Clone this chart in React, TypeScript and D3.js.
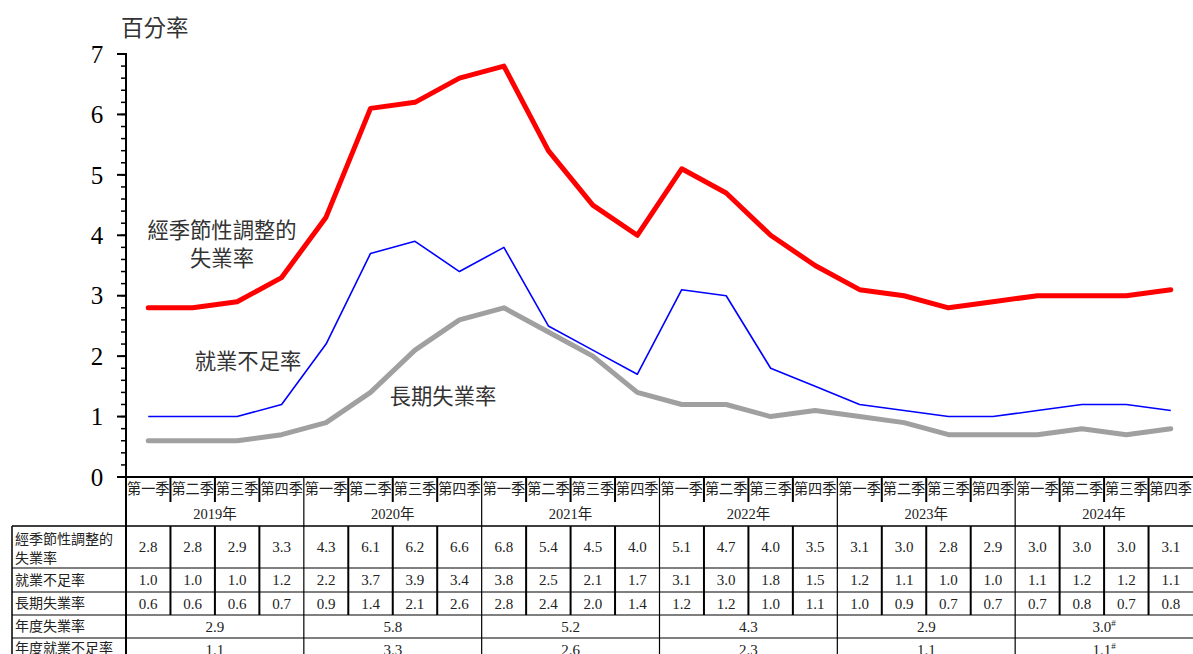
import React from 'react';
import * as d3 from 'd3';

const quarterNames = ['第一季', '第二季', '第三季', '第四季'];
const years = ['2019年', '2020年', '2021年', '2022年', '2023年', '2024年'];
const saUnemployment = [2.8, 2.8, 2.9, 3.3, 4.3, 6.1, 6.2, 6.6, 6.8, 5.4, 4.5, 4.0, 5.1, 4.7, 4.0, 3.5, 3.1, 3.0, 2.8, 2.9, 3.0, 3.0, 3.0, 3.1];
const underemployment = [1.0, 1.0, 1.0, 1.2, 2.2, 3.7, 3.9, 3.4, 3.8, 2.5, 2.1, 1.7, 3.1, 3.0, 1.8, 1.5, 1.2, 1.1, 1.0, 1.0, 1.1, 1.2, 1.2, 1.1];
const longTerm = [0.6, 0.6, 0.6, 0.7, 0.9, 1.4, 2.1, 2.6, 2.8, 2.4, 2.0, 1.4, 1.2, 1.2, 1.0, 1.1, 1.0, 0.9, 0.7, 0.7, 0.7, 0.8, 0.7, 0.8];
const annualUnemployment = ['2.9', '5.8', '5.2', '4.3', '2.9', '3.0'];
const annualUnderemployment = ['1.1', '3.3', '2.6', '2.3', '1.1', '1.1'];
const provisional = [false, false, false, false, false, true];
const yTicks = [0, 1, 2, 3, 4, 5, 6, 7];

const W = 1193;
const H = 654;
const FONT = "'Liberation Serif', 'Noto Sans CJK TC', serif";
const CJK = "'Noto Sans CJK TC', 'Liberation Serif', sans-serif";

export default function App() {
  const n = saUnemployment.length;
  const left = 126;
  const right = 1193;
  const x = d3.scaleBand<number>().domain(d3.range(n)).range([left, right]).padding(0);
  const bw = x.bandwidth();
  const cx = (i: number) => (x(i) as number) + bw / 2;
  const y = d3.scaleLinear().domain([0, 7]).range([477, 54]);
  const line = d3.line<number>().x((_, i) => cx(i)).y((d) => y(d));
  const minor = d3.range(0, 7.001, 0.2);

  const rows = {
    qTop: 477,
    qBot: 502,
    yBot: 526,
    r1: 568,
    r2: 592,
    r3: 615,
    r4: 638,
    r5: 661,
  };
  const labelLeft = 12;
  const txt = '#222';

  return (
    <svg width={W} height={H} style={{ position: 'absolute', left: 0, top: 0, background: '#fff' }} fontFamily={FONT}>
      <rect x={0} y={0} width={W} height={H} fill="#fff" />
      {/* y-axis title */}
      <text x={121} y={36} fontSize={22.5} fontFamily={CJK} fill="#333">百分率</text>
      {/* y axis */}
      <line x1={left} x2={left} y1={y(7) - 1} y2={rows.r5} stroke="#000" strokeWidth={2} />
      {minor.map((v, i) => (
        <line key={'m' + i} x1={left - 5} x2={left} y1={y(v)} y2={y(v)} stroke="#000" strokeWidth={1.5} />
      ))}
      {yTicks.map((v) => (
        <g key={'t' + v}>
          <line x1={left - 9} x2={left} y1={y(v)} y2={y(v)} stroke="#000" strokeWidth={2} />
          <text x={97} y={y(v)} dy="0.35em" textAnchor="middle" fontSize={25} fill="#000">{v}</text>
        </g>
      ))}
      {/* x axis */}
      <line x1={left - 4} x2={right} y1={y(0)} y2={y(0)} stroke="#000" strokeWidth={2} />

      {/* lines */}
      <path d={line(longTerm) || ''} fill="none" stroke="#a0a0a0" strokeWidth={5} strokeLinejoin="round" strokeLinecap="round" />
      <path d={line(underemployment) || ''} fill="none" stroke="#0000ff" strokeWidth={1.6} strokeLinejoin="round" />
      <path d={line(saUnemployment) || ''} fill="none" stroke="#ff0000" strokeWidth={5} strokeLinejoin="round" strokeLinecap="round" />

      {/* line labels */}
      <g fontFamily={CJK} fontSize={21.3} fill="#333" textAnchor="middle">
        <text x={222} y={238}>經季節性調整的</text>
        <text x={222} y={266}>失業率</text>
        <text x={248} y={369}>就業不足率</text>
        <text x={443} y={404}>長期失業率</text>
      </g>

      {/* table: quarter row */}
      {d3.range(n).map((i) => (
        <g key={'q' + i}>
          <text x={(x(i) as number) + 1} y={rows.qTop + 17} fontSize={14.5} fontFamily={CJK} fill={txt} textLength={bw - 2} lengthAdjust="spacingAndGlyphs">
            {quarterNames[i % 4]}
          </text>
          {i % 4 !== 0 && (
            <line x1={x(i)} x2={x(i)} y1={rows.qTop} y2={rows.qBot} stroke="#000" strokeWidth={2} />
          )}
        </g>
      ))}
      {/* year row */}
      {years.map((yr, k) => {
        const x0 = x(k * 4) as number;
        const x1 = (x(k * 4 + 3) as number) + bw;
        return (
          <g key={'y' + k}>
            <text x={(x0 + x1) / 2} y={rows.qBot + 17} textAnchor="middle" fontSize={14.5} fill={txt}>{yr}</text>
            {k > 0 && <line x1={x0} x2={x0} y1={rows.qTop} y2={rows.r5} stroke="#000" strokeWidth={1.2} />}
          </g>
        );
      })}

      {/* horizontal lines */}
      {[rows.yBot, rows.r1, rows.r2, rows.r3, rows.r4].map((yy, i) => (
        <line key={'h' + i} x1={labelLeft} x2={right} y1={yy} y2={yy} stroke="#000" strokeWidth={i === 0 ? 1.5 : 1.2} />
      ))}
      <line x1={labelLeft} x2={labelLeft} y1={rows.yBot} y2={rows.r5} stroke="#000" strokeWidth={1.5} />

      {/* quarterly data cells */}
      {[
        { data: saUnemployment, top: rows.yBot, bot: rows.r1 },
        { data: underemployment, top: rows.r1, bot: rows.r2 },
        { data: longTerm, top: rows.r2, bot: rows.r3 },
      ].map((r, ri) => (
        <g key={'r' + ri}>
          {r.data.map((v, i) => (
            <g key={i}>
              <text x={cx(i)} y={(r.top + r.bot) / 2} dy="0.35em" textAnchor="middle" fontSize={15} fill={txt}>{v.toFixed(1)}</text>
              {i % 4 !== 0 && (
                <line x1={x(i)} x2={x(i)} y1={r.top} y2={r.bot} stroke="#000" strokeWidth={2} />
              )}
            </g>
          ))}
        </g>
      ))}

      {/* annual rows */}
      {[
        { data: annualUnemployment, top: rows.r3, bot: rows.r4 },
        { data: annualUnderemployment, top: rows.r4, bot: rows.r5 },
      ].map((r, ri) => (
        <g key={'a' + ri}>
          {r.data.map((v, k) => {
            const x0 = x(k * 4) as number;
            const x1 = (x(k * 4 + 3) as number) + bw;
            return (
              <text key={k} x={(x0 + x1) / 2} y={(r.top + r.bot) / 2} dy="0.35em" textAnchor="middle" fontSize={15} fill={txt}>
                {v}
                {provisional[k] && <tspan fontSize={9} dy="-6">#</tspan>}
              </text>
            );
          })}
        </g>
      ))}

      {/* row labels */}
      <g fontFamily={CJK} fontSize={14} fill={txt}>
        <text x={15} y={544}>經季節性調整的</text>
        <text x={15} y={563}>失業率</text>
        <text x={15} y={585}>就業不足率</text>
        <text x={15} y={608}>長期失業率</text>
        <text x={15} y={631}>年度失業率</text>
        <text x={15} y={653}>年度就業不足率</text>
      </g>
    </svg>
  );
}
